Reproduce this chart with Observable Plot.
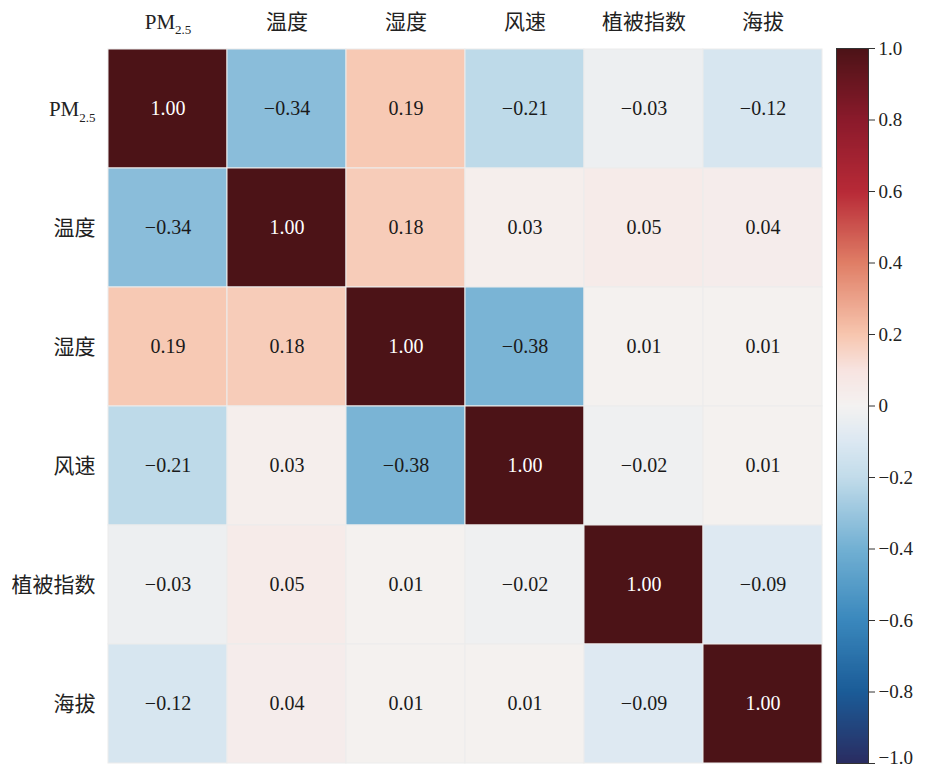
<!DOCTYPE html>
<html>
<head>
<meta charset="utf-8">
<script src="https://cdn.jsdelivr.net/npm/d3@7"></script>
<script src="https://cdn.jsdelivr.net/npm/@observablehq/plot@0.6"></script>
<style>
  body { margin: 0; background: #fff; }
  #wrap { position: relative; width: 926px; height: 768px; overflow: hidden; }
  #wrap svg { position: absolute; top: 0; overflow: visible; }
</style>
</head>
<body>
<div id="wrap"></div>
<script>
// ---- data ----
const variables = ["PM2.5", "温度", "湿度", "风速", "植被指数", "海拔"];
const rowPM25 = [1.00, -0.34, 0.19, -0.21, -0.03, -0.12];
const rowTemp = [-0.34, 1.00, 0.18, 0.03, 0.05, 0.04];
const rowHum  = [0.19, 0.18, 1.00, -0.38, 0.01, 0.01];
const rowWind = [-0.21, 0.03, -0.38, 1.00, -0.02, 0.01];
const rowNDVI = [-0.03, 0.05, 0.01, -0.02, 1.00, -0.09];
const rowElev = [-0.12, 0.04, 0.01, 0.01, -0.09, 1.00];
const colorbarTicks = [-1, -0.8, -0.6, -0.4, -0.2, 0, 0.2, 0.4, 0.6, 0.8, 1];
const colorStops = [-1, -0.8, -0.6, -0.4, -0.2, -0.1, 0, 0.1, 0.2, 0.4, 0.6, 0.8, 1];
const colorRange = ["#2a2c61", "#1b5c98", "#3a88bd", "#72b0d3", "#c2dcea", "#dce8f2", "#f4f2f1",
                    "#f7e4e1", "#f7c6af", "#e07e66", "#b82a37", "#8b1a2b", "#4c1317"];

const rows = [rowPM25, rowTemp, rowHum, rowWind, rowNDVI, rowElev];
const cells = [];
rows.forEach((r, i) => r.forEach((v, j) => cells.push({row: variables[i], col: variables[j], value: v})));

const colorScale = {type: "linear", domain: colorStops, range: colorRange, interpolate: "rgb"};
const serif = "'Liberation Serif', 'Times New Roman', 'Noto Sans CJK SC', serif";
const fmt = v => v.toFixed(2).replace("-", "\u2212");
const fmtTick = v => v === 0 ? "0" : v.toFixed(1).replace("-", "\u2212");

const heat = Plot.plot({
  width: 826, height: 768,
  marginLeft: 108, marginRight: 4, marginTop: 48, marginBottom: 5,
  style: {fontFamily: serif, fontSize: "20px", color: "#222", background: "transparent"},
  x: {domain: variables, padding: 0, axis: null},
  y: {domain: variables, padding: 0, axis: null},
  color: colorScale,
  marks: [
    Plot.cell(cells, {x: "col", y: "row", fill: "value", stroke: "#ececec", strokeWidth: 1}),
    Plot.text(cells, {x: "col", y: "row", text: d => fmt(d.value),
      fill: d => d.value > 0.7 ? "#fff" : "#1a1a1a", fontSize: 20}),
    Plot.axisX({anchor: "top", label: null, tickSize: 0, tickPadding: 20, fontSize: 21, fill: "#222"}),
    Plot.axisY({anchor: "left", label: null, tickSize: 0, tickPadding: 13, fontSize: 21, fill: "#222"})
  ]
});

const bar = Plot.plot({
  width: 90, height: 768,
  marginLeft: 0, marginRight: 58, marginTop: 48, marginBottom: 5,
  style: {fontFamily: serif, fontSize: "19px", color: "#222", background: "transparent"},
  x: {domain: [0, 1], axis: null},
  y: {domain: [-1, 1], axis: null},
  color: colorScale,
  marks: [
    Plot.raster({x1: 0, x2: 1, y1: -1, y2: 1, width: 1, height: 400, fill: (x, y) => y}),
    Plot.frame({stroke: "#333", strokeWidth: 1}),
    Plot.axisY({anchor: "right", label: null, ticks: colorbarTicks, tickFormat: fmtTick, tickSize: 6,
      tickPadding: 4, fontSize: 19, stroke: "#333"})
  ]
});
bar.style.left = "836px";
heat.style.left = "0px";

// subscript for PM2.5
function subscriptPM(node) {
  const s = d3.select(node);
  s.text("PM");
  s.append("tspan").attr("font-size", "13px").attr("dy", "0.45em").text("2.5");
}
d3.select(heat).selectAll("text").each(function() {
  if (this.children.length === 0 && this.textContent === "PM2.5") subscriptPM(this);
  else d3.select(this).selectAll("tspan").each(function() {
    if (this.textContent === "PM2.5") subscriptPM(this);
  });
});
// keep the bottom colorbar label inside the picture
d3.select(bar).selectAll("text").each(function() {
  if (this.textContent === "\u22121.0") d3.select(this).attr("dy", "-0.3em");
});

document.getElementById("wrap").append(heat, bar);
</script>
</body>
</html>
